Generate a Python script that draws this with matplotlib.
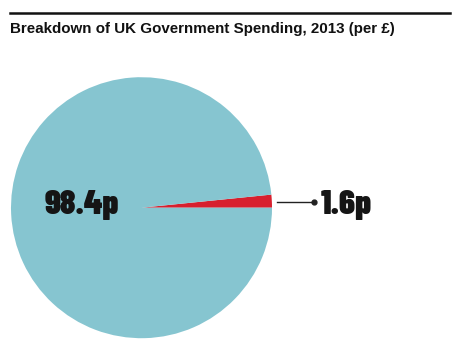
import matplotlib
matplotlib.use("Agg")
import matplotlib.pyplot as plt
from matplotlib.lines import Line2D

labels = ["Other", "Highlighted"]
values = [98.4, 1.6]
value_labels = ["98.4p", "1.6p"]
colors = ["#86C5D0", "#D7202E"]
title = "Breakdown of UK Government Spending, 2013 (per £)"

W, H = 474, 353
fig = plt.figure(figsize=(W / 100, H / 100), dpi=100)
ax = fig.add_axes([0, 0, 1, 1])

cx, cy, r = 141.5, H - 207.7, 130.5
ax.pie(values[::-1], colors=colors[::-1], startangle=0, counterclock=True,
       center=(cx, cy), radius=r, wedgeprops=dict(linewidth=0))
ax.set_xlim(0, W)
ax.set_ylim(0, H)
ax.set_aspect("equal")
ax.axis("off")

# top rule
fig.add_artist(Line2D([10 / W, 450 / W], [1 - 13 / H, 1 - 13 / H],
                      color="#111111", lw=1.8))
fig.text(10 / W, 1 - 32.5 / H, title, fontsize=10.9, fontweight="bold",
         family="Liberation Sans", va="baseline", ha="left", color="#111111")

font = dict(family=["Barlow Condensed", "Anton", "DejaVu Sans"],
            fontweight="black", fontsize=25, color="#151515")
ax.text(45, H - 214, value_labels[0], ha="left", va="baseline", **font)
ax.plot([277, 314], [H - 202, H - 202], color="#222222", lw=1)
ax.plot([314], [H - 202], "o", color="#222222", ms=3.5)
ax.text(321, H - 213.5, value_labels[1], ha="left", va="baseline", **font)

fig.savefig("out.png", dpi=100)
